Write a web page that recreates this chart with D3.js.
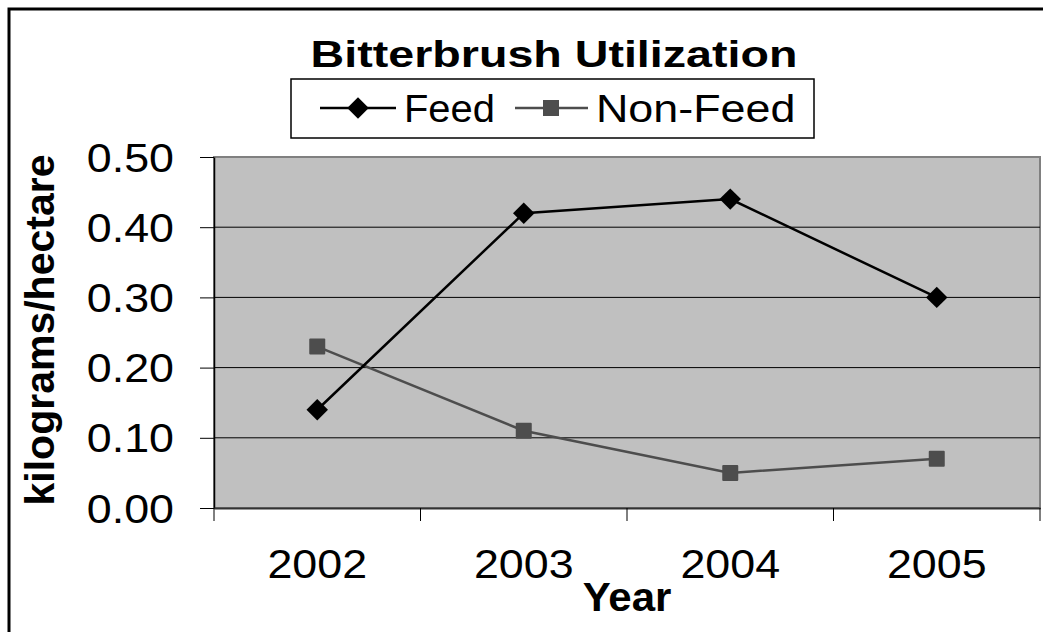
<!DOCTYPE html>
<html>
<head>
<meta charset="utf-8">
<script src="https://cdn.jsdelivr.net/npm/d3@7"></script>
<style>
  body { margin: 0; background: #fff; }
  text { font-family: "Liberation Sans", Arial, sans-serif; fill: #000; }
</style>
</head>
<body>
<script>
var years = ["2002", "2003", "2004", "2005"];
var feed = [0.14, 0.42, 0.44, 0.30];
var nonFeed = [0.23, 0.11, 0.05, 0.07];
var yTicks = [0, 0.1, 0.2, 0.3, 0.4, 0.5];
var seriesNames = ["Feed", "Non-Feed"];

var width = 1043,
    height = 632;

var svg = d3.select("body")
        .append("svg")
        .attr("width", width)
        .attr("height", height);

// plot area box
var plotL = 214, plotR = 1040, plotT = 157, plotB = 508;
var sx = 1.12; // text in the picture is a bit wider than normal

var x = d3.scaleBand().domain(years).range([plotL, plotR]);
var y = d3.scaleLinear().domain([0, 0.5]).range([plotB, plotT]);

// text helper, stretched sideways like the original
function label(g, txt, px, py, size, anchor, bold, k) {
    return g.append("text")
        .attr("transform", "translate(" + px + "," + py + ") scale(" + (k || sx) + ",1)")
        .attr("text-anchor", anchor)
        .style("font-size", size + "px")
        .style("font-weight", bold ? "bold" : "normal")
        .text(txt);
}

// outer chart border (runs off the right and bottom)
svg.append("rect")
    .attr("x", 9).attr("y", 9)
    .attr("width", 1200).attr("height", 800)
    .attr("fill", "none")
    .attr("stroke", "#000")
    .attr("stroke-width", 3);

// grey plot area
svg.append("rect")
    .attr("x", plotL).attr("y", plotT)
    .attr("width", plotR - plotL).attr("height", plotB - plotT)
    .attr("fill", "#c0c0c0")
    .attr("stroke", "#808080")
    .attr("stroke-width", 2);

// gridlines
svg.selectAll("line.grid")
    .data(yTicks.filter(d => d > 0 && d < 0.5))
    .enter()
    .append("line")
    .attr("class", "grid")
    .attr("x1", plotL).attr("x2", plotR)
    .attr("y1", d => y(d)).attr("y2", d => y(d))
    .attr("stroke", "#000")
    .attr("stroke-width", 1);

// y axis
var yAxis = svg.append("g")
    .attr("transform", "translate(" + plotL + ",0)")
    .call(d3.axisLeft(y).tickValues(yTicks).tickFormat(d3.format(".2f"))
        .tickSize(14).tickSizeOuter(0).tickPadding(26));
yAxis.select(".domain").attr("stroke", "#000").attr("stroke-width", 1.5);
yAxis.selectAll(".tick line").attr("stroke", "#000");
yAxis.selectAll(".tick text")
    .attr("x", null).attr("dy", null)
    .attr("transform", "translate(-40,14) scale(" + sx + ",1)")
    .style("font-size", "40px")
    .style("font-family", "'Liberation Sans', Arial, sans-serif");

// x axis: labels in the middle of each band
var xAxis = svg.append("g")
    .attr("transform", "translate(0," + plotB + ")")
    .call(d3.axisBottom(x).tickSize(0).tickSizeOuter(0).tickPadding(40));
xAxis.select(".domain").attr("stroke", "#333").attr("stroke-width", 2);
xAxis.selectAll(".tick text")
    .attr("y", null).attr("dy", null)
    .attr("transform", "translate(0,70) scale(" + sx + ",1)")
    .style("font-size", "40px")
    .style("font-family", "'Liberation Sans', Arial, sans-serif");

// tick marks between categories
var bounds = years.map(d => x(d)).concat([plotR]);
svg.selectAll("line.xtick")
    .data(bounds)
    .enter()
    .append("line")
    .attr("class", "xtick")
    .attr("x1", d => d).attr("x2", d => d)
    .attr("y1", plotB).attr("y2", plotB + 13)
    .attr("stroke", "#000")
    .attr("stroke-width", 1);

// series lines
var cx = d => x(d) + x.bandwidth() / 2;
var line = d3.line().x((d, i) => cx(years[i])).y(d => y(d));

svg.append("path")
    .datum(nonFeed)
    .attr("d", line)
    .attr("fill", "none")
    .attr("stroke", "#4d4d4d")
    .attr("stroke-width", 2.5);

svg.append("path")
    .datum(feed)
    .attr("d", line)
    .attr("fill", "none")
    .attr("stroke", "#000")
    .attr("stroke-width", 2.5);

var diamond = d3.symbol().type(d3.symbolSquare).size(230);
svg.selectAll("rect.nf")
    .data(nonFeed)
    .enter()
    .append("rect")
    .attr("class", "nf")
    .attr("x", (d, i) => cx(years[i]) - 8)
    .attr("y", d => y(d) - 8)
    .attr("width", 16).attr("height", 16)
    .attr("rx", 1)
    .attr("fill", "#4d4d4d");

svg.selectAll("path.fd")
    .data(feed)
    .enter()
    .append("path")
    .attr("class", "fd")
    .attr("d", diamond)
    .attr("transform", (d, i) => "translate(" + cx(years[i]) + "," + y(d) + ") rotate(45)")
    .attr("fill", "#000");

// title
label(svg, "Bitterbrush Utilization", 554, 67, 37, "middle", true, 1.26);

// legend
var lg = svg.append("g");
lg.append("rect")
    .attr("x", 291).attr("y", 79)
    .attr("width", 523).attr("height", 59)
    .attr("fill", "#fff")
    .attr("stroke", "#000")
    .attr("stroke-width", 1.5);
lg.append("line").attr("x1", 320).attr("x2", 396).attr("y1", 108).attr("y2", 108)
    .attr("stroke", "#000").attr("stroke-width", 2.5);
lg.append("path").attr("d", diamond)
    .attr("transform", "translate(358,108) rotate(45)").attr("fill", "#000");
label(lg, seriesNames[0], 404, 122, 38, "start", false, 1.05);
lg.append("line").attr("x1", 515).attr("x2", 588).attr("y1", 108).attr("y2", 108)
    .attr("stroke", "#4d4d4d").attr("stroke-width", 2.5);
lg.append("rect").attr("x", 543).attr("y", 100).attr("width", 16).attr("height", 16)
    .attr("fill", "#4d4d4d");
label(lg, seriesNames[1], 596, 122, 38, "start", false, 1.18);

// axis titles
label(svg, "Year", 627, 611, 40, "middle", true, 1.05);
svg.append("text")
    .attr("transform", "translate(54,330) rotate(-90)")
    .attr("text-anchor", "middle")
    .style("font-size", "41px")
    .style("font-weight", "bold")
    .text("kilograms/hectare");
</script>
</body>
</html>
